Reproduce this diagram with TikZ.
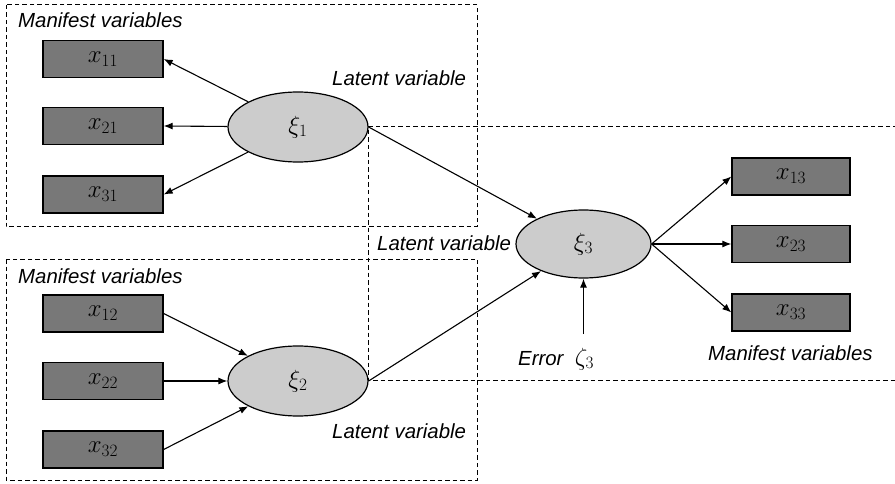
\documentclass[tikz,border=0pt]{standalone}
\usepackage{fontspec}
\setsansfont{Liberation Sans}
\usetikzlibrary{shapes.geometric,arrows.meta}
\definecolor{mvfill}{RGB}{120,120,120}
\definecolor{lvfill}{RGB}{204,204,204}
\tikzset{
  manifest/.style={draw=black, fill=mvfill, line width=1.3pt, minimum width=120pt,
    minimum height=37pt, inner sep=0pt, font=\fontsize{25}{29}\selectfont},
  latent/.style={ellipse, draw=black, fill=lvfill, line width=1.2pt, minimum width=140pt,
    minimum height=70pt, inner sep=0pt, font=\fontsize{25}{29}\selectfont},
  latentR/.style={latent, minimum width=135pt, minimum height=68pt},
  lbl/.style={font=\sffamily\itshape\fontsize{20.4}{24}\selectfont, inner sep=0pt, anchor=base west},
  link/.style={line width=1.1pt, -{Latex[length=9pt,width=7pt]}},
  group/.style={dash pattern=on 4.5pt off 3pt, line width=1pt}
}
\begin{document}
\begin{tikzpicture}[x=1pt,y=-1pt]
\useasboundingbox (0,0) rectangle (895,484);

% dashed frames
\draw[group] (6,5) rectangle (477,227);
\draw[group] (6,259) rectangle (477,480);
\draw[group] (905,127) -- (368,127) -- (368,380) -- (905,380);

% manifest variables of the first block
\node[manifest] (x11) at (103,59) {$x_{11}$};
\node[manifest] (x21) at (103,126) {$x_{21}$};
\node[manifest] (x31) at (103,194.5) {$x_{31}$};
% manifest variables of the second block
\node[manifest] (x12) at (103,313.5) {$x_{12}$};
\node[manifest] (x22) at (103,381) {$x_{22}$};
\node[manifest] (x32) at (103,449.5) {$x_{32}$};
% manifest variables of the third block
\node[manifest, minimum width=118pt] (x13) at (791,176.5) {$x_{13}$};
\node[manifest, minimum width=118pt] (x23) at (791,244) {$x_{23}$};
\node[manifest, minimum width=118pt] (x33) at (791,312.5) {$x_{33}$};

% latent variables
\node[latent] (xi1) at (298,127) {$\xi_1$};
\node[latent] (xi2) at (298,381) {$\xi_2$};
\node[latentR] (xi3) at (583.5,244) {$\xi_3$};

% labels
\node[lbl] (m1) at (18,28) {Manifest variables};
\node[lbl] (l1) at (332,86) {Latent variable};
\node[lbl] (m2) at (18,283) {Manifest variables};
\node[lbl] (l2) at (332,438) {Latent variable};
\node[lbl] (l3) at (377,251) {Latent variable};
\node[lbl] (m3) at (708,360) {Manifest variables};
\node[lbl] (err) at (518,365) {Error\ \ \normalfont\fontsize{25}{29}\selectfont$\zeta_3$};
\coordinate (errtop) at (583.5,334);

% reflective block
\draw[link] (xi1) -- (x11.east);
\draw[link] (xi1) -- (x21.east);
\draw[link] (xi1) -- (x31.east);
% formative block
\draw[link] (x12.east) -- (xi2);
\draw[link] (x22.east) -- (xi2);
\draw[link] (x32.east) -- (xi2);
% structural paths
\draw[link] (xi1.east) -- (xi3);
\draw[link] (xi2.east) -- (xi3);
\draw[link] (errtop) -- (xi3.south);
% outer block
\draw[link] (xi3.east) -- (x13.west);
\draw[link] (xi3.east) -- (x23.west);
\draw[link] (xi3.east) -- (x33.west);
\end{tikzpicture}
\end{document}
